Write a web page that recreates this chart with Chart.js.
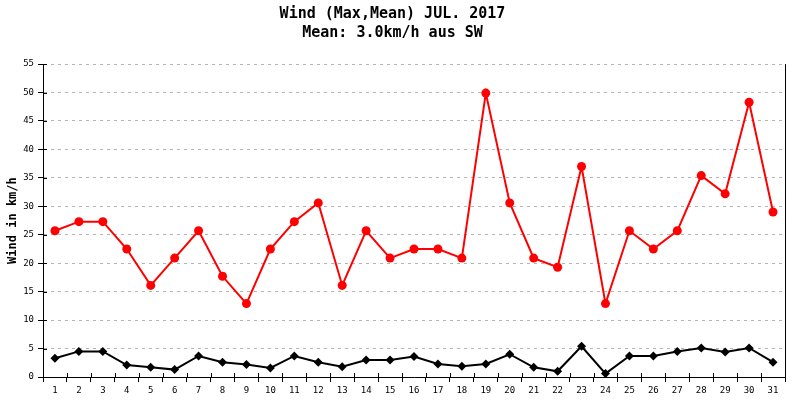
<!DOCTYPE html>
<html>
<head>
<meta charset="utf-8">
<script src="https://cdn.jsdelivr.net/npm/chart.js@4/dist/chart.umd.min.js"></script>
<style>
  html, body { margin: 0; padding: 0; background: #fff; }
  canvas { display: block; }
</style>
</head>
<body>
<canvas id="chart" width="800" height="400"></canvas>
<script>
const days = ['1', '2', '3', '4', '5', '6', '7', '8', '9', '10', '11', '12', '13', '14', '15', '16',
  '17', '18', '19', '20', '21', '22', '23', '24', '25', '26', '27', '28', '29', '30', '31'];
const windMax = [25.7, 27.3, 27.3, 22.5, 16.1, 20.9, 25.7, 17.7, 12.9, 22.5, 27.3, 30.6, 16.1, 25.7, 20.9, 22.5,
  22.5, 20.9, 49.9, 30.6, 20.9, 19.3, 37.0, 12.9, 25.7, 22.5, 25.7, 35.4, 32.2, 48.3, 29.0];
const windMean = [3.3, 4.5, 4.5, 2.1, 1.7, 1.3, 3.7, 2.6, 2.2, 1.6, 3.7, 2.6, 1.8, 3.0, 3.0, 3.6,
  2.3, 1.9, 2.3, 4.0, 1.7, 1.0, 5.4, 0.6, 3.7, 3.7, 4.5, 5.1, 4.4, 5.1, 2.6];
const titleLines = ['Wind (Max,Mean) JUL. 2017', 'Mean: 3.0km/h aus SW'];
const yTitle = 'Wind in km/h';

const MONO = "'DejaVu Sans Mono', 'Liberation Mono', monospace";

// right frame line plus the short tick stubs that reach into the plot
const frame = {
  id: 'frame',
  afterDatasetsDraw(chart) {
    const { ctx, chartArea, scales } = chart;
    ctx.save();
    ctx.strokeStyle = '#000';
    ctx.lineWidth = 1;
    ctx.beginPath();
    ctx.moveTo(chartArea.right + 0.5, chartArea.top);
    ctx.lineTo(chartArea.right + 0.5, chartArea.bottom);
    scales.y.ticks.forEach(t => {
      const py = Math.round(scales.y.getPixelForValue(t.value)) + 0.5;
      ctx.moveTo(chartArea.left, py);
      ctx.lineTo(chartArea.left + 4, py);
    });
    for (let i = 0; i <= days.length; i++) {
      const px = Math.round(scales.x.getPixelForValue(i - 0.5)) + 0.5;
      ctx.moveTo(px, chartArea.bottom);
      ctx.lineTo(px, chartArea.bottom - 4);
    }
    ctx.stroke();
    ctx.restore();
  },
};

new Chart(document.getElementById('chart'), {
  type: 'line',
  data: {
    labels: days,
    datasets: [
      {
        label: 'Max',
        data: windMax,
        borderColor: '#ff0000',
        backgroundColor: '#ff0000',
        borderWidth: 2,
        pointStyle: 'circle',
        pointRadius: 4.5,
        pointBorderWidth: 0,
        tension: 0,
      },
      {
        label: 'Mean',
        data: windMean,
        borderColor: '#000000',
        backgroundColor: '#000000',
        borderWidth: 2,
        pointStyle: 'rectRot',
        pointRadius: 4.5,
        pointBorderWidth: 0,
        tension: 0,
      },
    ],
  },
  options: {
    responsive: false,
    animation: false,
    devicePixelRatio: 1,
    layout: { padding: { left: 0, right: 15, top: 0, bottom: 0 } },
    plugins: {
      legend: { display: false },
      tooltip: { enabled: false },
      title: {
        display: true,
        text: titleLines,
        color: '#000',
        font: { family: MONO, size: 15, weight: 'bold', lineHeight: 1.27 },
        padding: { top: 5, bottom: 21 },
      },
    },
    scales: {
      x: {
        offset: true,
        grid: { drawOnChartArea: false, drawTicks: true, tickLength: 5, tickColor: '#000', offset: true },
        border: { color: '#000', width: 1 },
        ticks: { color: '#000', font: { family: MONO, size: 9 }, padding: 3, maxRotation: 0, autoSkip: false },
        afterFit(scale) { scale.height = 23; },
      },
      y: {
        min: 0,
        max: 55,
        ticks: { stepSize: 5, color: '#000', font: { family: MONO, size: 9 }, padding: 4 },
        grid: { color: '#b4b4b4', tickColor: '#000', tickLength: 5, drawTicks: true },
        border: { color: '#000', width: 1, dash: [3, 4] },
        title: {
          display: true,
          text: yTitle,
          color: '#000',
          font: { family: MONO, size: 12, weight: 'bold' },
          padding: { top: 6, bottom: 0 },
        },
        afterFit(scale) { scale.width = 43; },
      },
    },
  },
  plugins: [frame],
});
</script>
</body>
</html>
